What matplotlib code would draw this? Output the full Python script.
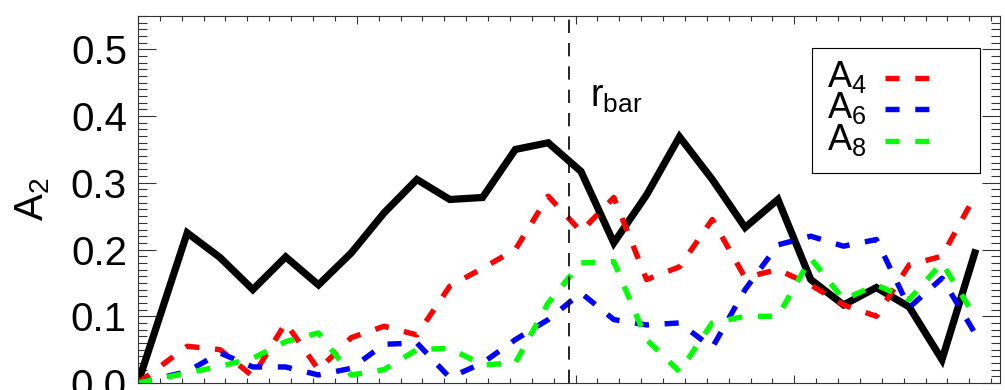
import matplotlib
matplotlib.use("Agg")
import matplotlib.pyplot as plt
from matplotlib.patches import Rectangle
from matplotlib.ticker import MultipleLocator

plt.rcParams['font.family'] = ['Liberation Sans', 'DejaVu Sans']

# radius of each bin centre
radius = [0.0, 0.225, 0.375, 0.525, 0.675, 0.825, 0.975, 1.125, 1.275, 1.425,
          1.575, 1.725, 1.875, 2.025, 2.175, 2.325, 2.475, 2.625, 2.775, 2.925,
          3.075, 3.225, 3.375, 3.525, 3.675, 3.825]

a2 = [0.0, 0.225, 0.188, 0.140, 0.189, 0.147, 0.195, 0.255, 0.305, 0.275,
      0.278, 0.350, 0.360, 0.317, 0.210, 0.282, 0.369, 0.305, 0.233, 0.275,
      0.155, 0.117, 0.143, 0.114, 0.035, 0.195]
a4 = [0.0, 0.055, 0.050, 0.010, 0.090, 0.020, 0.068, 0.085, 0.072, 0.145,
      0.172, 0.200, 0.280, 0.227, 0.278, 0.155, 0.174, 0.245, 0.158, 0.170,
      0.147, 0.117, 0.100, 0.177, 0.190, 0.280]
a6 = [0.0, 0.017, 0.045, 0.024, 0.024, 0.012, 0.022, 0.058, 0.060, 0.008,
      0.030, 0.065, 0.095, 0.135, 0.095, 0.087, 0.090, 0.053, 0.140, 0.207,
      0.220, 0.205, 0.215, 0.113, 0.157, 0.075]
a8 = [0.0, 0.015, 0.025, 0.037, 0.062, 0.075, 0.012, 0.020, 0.050, 0.052,
      0.027, 0.030, 0.120, 0.180, 0.182, 0.065, 0.017, 0.090, 0.100, 0.100,
      0.187, 0.125, 0.147, 0.125, 0.180, 0.100]

r_bar = 1.968
labels = ['$\\mathregular{A_4}$', '$\\mathregular{A_6}$', '$\\mathregular{A_8}$']
colors = ['red', 'blue', '#00ff00']
dash = (0, (2.6, 2.9))

fig = plt.figure(figsize=(10.05, 3.9), dpi=100)
ax = fig.add_axes([0.1373, 0.018, 0.8577, 0.941])

ax.plot(radius, a2, color='black', lw=5.2, solid_joinstyle='miter')
for vals, col in zip([a4, a6, a8], colors):
    ax.plot(radius, vals, color=col, lw=3.9, linestyle=dash)

ax.axvline(r_bar, color='black', lw=1.2, linestyle=(0, (8, 6)))
ax.text(r_bar + 0.10, 0.414, '$\\mathregular{r_{bar}}$', fontsize=27)

# legend box drawn by hand: label first, dashed sample to the right
ax.add_patch(Rectangle((0.782, 0.572), 0.195, 0.341, transform=ax.transAxes,
                       fill=False, edgecolor='black', lw=0.8, zorder=5))
text_y = [0.8065, 0.722, 0.635]
for lab, col, ty in zip(labels, colors, text_y):
    ax.text(0.799, ty, lab, fontsize=26, transform=ax.transAxes, va='baseline', zorder=6)
    ax.plot([0.8666, 0.920], [ty + 0.024, ty + 0.024], transform=ax.transAxes,
            color=col, lw=3.9, linestyle=dash, zorder=6)

ax.set_xlim(0, 3.94)
ax.set_ylim(0, 0.55)
ax.xaxis.set_major_locator(MultipleLocator(1.0))
ax.xaxis.set_minor_locator(MultipleLocator(0.1))
ax.yaxis.set_major_locator(MultipleLocator(0.1))
ax.yaxis.set_minor_locator(MultipleLocator(0.01))
ax.yaxis.set_major_formatter(plt.FormatStrFormatter('%.1f'))

ax.tick_params(which='both', direction='in', top=True, right=True, width=0.8, color='#333333')
ax.tick_params(axis='x', which='major', length=6)
ax.tick_params(axis='x', which='minor', length=3.6)
ax.tick_params(axis='y', which='major', length=13, labelsize=29, pad=8)
ax.tick_params(axis='y', which='minor', length=6.5)
ax.tick_params(axis='x', labelbottom=False)
for sp in ax.spines.values():
    sp.set_linewidth(0.8)
    sp.set_color('#333333')

ax.set_ylabel('$\\mathregular{A_2}$', fontsize=29)
ax.yaxis.set_label_coords(-0.10, 0.5)

fig.savefig('out.png', dpi=100)
